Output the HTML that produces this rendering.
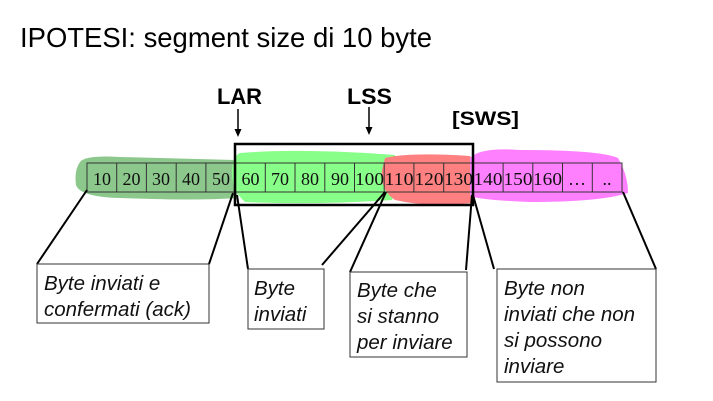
<!DOCTYPE html>
<html><head><meta charset="utf-8"><style>body{margin:0;background:#fff}svg{display:block}</style></head>
<body>
<svg width="713" height="401" xmlns="http://www.w3.org/2000/svg">
<text x="20" y="47" font-family="Liberation Sans, sans-serif" font-size="28" textLength="412" lengthAdjust="spacingAndGlyphs">IPOTESI: segment size di 10 byte</text>
<g font-family="Liberation Sans, sans-serif" font-weight="bold">
<text x="217" y="104" font-size="22" textLength="45" lengthAdjust="spacingAndGlyphs">LAR</text>
<text x="347" y="104" font-size="22" textLength="45" lengthAdjust="spacingAndGlyphs">LSS</text>
<text x="452" y="125" font-size="19" textLength="67" lengthAdjust="spacingAndGlyphs">[SWS]</text>
</g>
<g stroke="#000" stroke-width="1.5">
<line x1="238" y1="109" x2="238" y2="132"/><line x1="369" y1="107" x2="369" y2="130"/>
</g>
<path d="M234.5,129 L241.5,129 L238,137Z M365.5,127 L372.5,127 L369,135Z" fill="#000"/>
<path d="M80,162 Q85,155 120,157 L235,160 Q245,175 236,198 Q200,201 120,198 Q80,197 76,185 Q74,170 80,162Z" fill="#8cc88c"/>
<path d="M240,153 Q300,148 395,155 Q402,175 392,200 Q320,205 245,202 Q231,190 232,170 Q233,156 240,153Z" fill="#88ff88"/>
<path d="M385,158 Q410,152 470,156 Q480,175 472,203 Q430,208 395,200 Q380,190 382,170Z" fill="#ff8080"/>
<path d="M470,158 Q480,147 520,150 Q600,150 618,158 Q628,175 628,193 Q600,202 530,202 Q480,200 470,196Z" fill="#ff80ff"/>
<g stroke="#333" stroke-width="1" fill="none">
<rect x="87" y="163" width="535" height="29"/>
<path d="M116.7,163v29M146.4,163v29M176.2,163v29M205.9,163v29M235.6,163v29M265.3,163v29M295,163v29M324.8,163v29M354.5,163v29M384.2,163v29M413.9,163v29M443.7,163v29M473.4,163v29M503.1,163v29M532.8,163v29M562.5,163v29M592.3,163v29"/>
</g>
<g font-family="Liberation Serif, serif" font-size="18" text-anchor="middle" fill="#111">
<text x="102" y="185">10</text><text x="131.5" y="185">20</text><text x="161" y="185">30</text><text x="191" y="185">40</text><text x="221" y="185">50</text>
<text x="250.5" y="185">60</text><text x="280" y="185">70</text><text x="310" y="185">80</text><text x="340" y="185">90</text><text x="369.5" y="185" textLength="29" lengthAdjust="spacingAndGlyphs">100</text>
<text x="399" y="185" textLength="29" lengthAdjust="spacingAndGlyphs">110</text><text x="429" y="185" textLength="29" lengthAdjust="spacingAndGlyphs">120</text><text x="458.5" y="185" textLength="29" lengthAdjust="spacingAndGlyphs">130</text>
<text x="488" y="185" textLength="29" lengthAdjust="spacingAndGlyphs">140</text><text x="518" y="185" textLength="29" lengthAdjust="spacingAndGlyphs">150</text><text x="547.5" y="185" textLength="29" lengthAdjust="spacingAndGlyphs">160</text>
<text x="577" y="185">…</text><text x="607" y="185">..</text>
</g>
<rect x="235" y="144" width="238" height="61" fill="none" stroke="#000" stroke-width="2.5"/>
<g stroke="#000" stroke-width="2" fill="none">
<line x1="37" y1="264" x2="87" y2="190"/><line x1="209" y1="264" x2="233" y2="193"/>
<line x1="248" y1="269" x2="237" y2="195"/><line x1="322" y1="265" x2="385" y2="192"/>
<line x1="350" y1="272" x2="386" y2="192"/><line x1="466" y1="270" x2="472" y2="195"/>
<line x1="494" y1="269" x2="473" y2="195"/><line x1="656" y1="269" x2="623" y2="192"/>
</g>
<g stroke="#333" stroke-width="1" fill="#fff">
<rect x="37" y="264" width="172" height="59"/>
<rect x="248" y="269" width="76" height="60"/>
<rect x="350" y="272" width="117" height="85"/>
<rect x="497" y="269" width="159" height="113"/>
</g>
<g font-family="Liberation Sans, sans-serif" font-size="20.5" font-style="italic" fill="#111">
<text x="44" y="290">Byte inviati e</text><text x="44" y="316">confermati (ack)</text>
<text x="254" y="295">Byte</text><text x="254" y="321">inviati</text>
<text x="357" y="297">Byte che</text><text x="357" y="323">si stanno</text><text x="357" y="349">per inviare</text>
<text x="504" y="295">Byte non</text><text x="504" y="321">inviati che non</text><text x="504" y="347">si possono</text><text x="504" y="373">inviare</text>
</g>
</svg>
</body></html>
